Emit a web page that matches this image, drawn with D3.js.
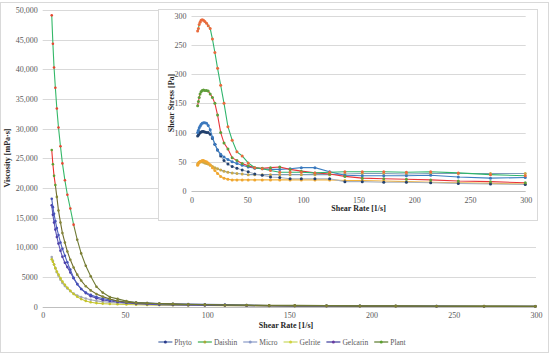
<!DOCTYPE html>
<html>
<head>
<meta charset="utf-8">
<script src="https://cdn.jsdelivr.net/npm/d3@7"></script>
<style>
  body { margin: 0; background: #fff; }
  text { font-family: "Liberation Serif", "Times New Roman", serif; }
</style>
</head>
<body>
<div id="chart"></div>
<script>
// shear rate points [1/s]
const shearRate = [5.5, 6.2, 6.9, 7.7, 8.6, 9.6, 10.8, 12.0, 13.5, 15.0, 16.8, 18.8, 21.0, 23.4, 26.2, 29.2, 32.7, 36.5, 40.8, 45.5, 50.9, 56.8, 63.5, 70.9, 79.2, 88.5, 98.6, 110.8, 124.0, 137.7, 153.3, 172.6, 192.9, 214.7, 239.5, 268.4, 299.6];

// viscosity [mPa·s] (main chart)
const viscDaishin = [49100, 44300, 40300, 36900, 33400, 30200, 27050, 24150, 21300, 18870, 16550, 13830, 11290, 8980, 6910, 5140, 3360, 2380, 1640, 1320, 940, 700, 600, 490, 400, 360, 320, 280, 260, 240, 215, 190, 165, 155, 130, 105, 85];
const viscPlant = [26400, 24000, 22050, 20500, 18500, 16200, 14200, 12400, 10800, 9300, 7900, 6600, 5400, 4400, 3450, 2750, 2150, 1700, 1300, 950, 760, 640, 580, 540, 500, 420, 345, 280, 235, 180, 145, 120, 105, 90, 72, 60, 48];
const viscPhyto = [18180, 16780, 15650, 14420, 13260, 12090, 10830, 9750, 8590, 7470, 6250, 4890, 3810, 2990, 2400, 1990, 1650, 1370, 1150, 970, 805, 690, 600, 520, 470, 430, 405, 360, 265, 195, 170, 150, 135, 125, 100, 80, 75];
const viscGelcarin = [17090, 15480, 14200, 12990, 11750, 10630, 9440, 8420, 7410, 6670, 5770, 4790, 3810, 2990, 2290, 1780, 1410, 1150, 955, 790, 650, 510, 425, 340, 290, 235, 215, 190, 170, 115, 105, 87, 78, 65, 54, 45, 37];
const viscGelrite = [8000, 7580, 7100, 6500, 5930, 5420, 4810, 4250, 3700, 3200, 2680, 2130, 1670, 1280, 950, 750, 610, 520, 465, 420, 375, 335, 300, 270, 240, 215, 195, 170, 155, 130, 115, 100, 85, 70, 60, 50, 40];
const viscMicro = [8360, 7740, 7100, 6500, 5820, 5210, 4540, 4000, 3480, 3070, 2620, 2230, 1900, 1620, 1370, 1160, 980, 850, 735, 640, 550, 495, 440, 395, 355, 315, 285, 255, 225, 210, 195, 175, 150, 140, 125, 110, 100];

// shear stress [Pa] (inset chart)
const stressDaishin = [274, 278, 285, 289, 292, 293, 292, 290, 287, 283, 278, 260, 237, 210, 181, 150, 110, 87, 67, 60, 48, 40, 38, 35, 32, 32, 32, 31, 32, 33, 33, 33, 32, 33, 31, 28, 26];
const stressPlant = [146, 153, 160, 166, 170, 172, 173, 172, 172, 171, 166, 160, 150, 130, 100, 82, 72, 57, 52, 47, 43, 40, 39, 40, 41, 37, 34, 31, 29, 25, 22, 21, 20, 19, 17, 16, 14];
const stressPhyto = [100, 104, 108, 111, 114, 116, 117, 117, 116, 112, 105, 92, 80, 70, 63, 58, 54, 50, 47, 44, 41, 39, 38, 37, 37, 38, 40, 40, 33, 27, 26, 26, 26, 27, 24, 22, 23];
const stressGelcarin = [94, 96, 98, 100, 101, 102, 102, 101, 100, 100, 97, 90, 80, 70, 60, 52, 46, 42, 39, 36, 33, 29, 27, 24, 23, 21, 21, 21, 21, 16, 16, 15, 15, 14, 13, 12, 11];
const stressGelrite = [44, 47, 49, 50, 51, 52, 52, 51, 50, 48, 45, 40, 35, 30, 25, 22, 20, 19, 19, 19, 19, 19, 19, 19, 19, 19, 19, 19, 19, 18, 18, 17, 16, 15, 14, 13, 12];
const stressMicro = [46, 48, 49, 50, 50, 50, 49, 48, 47, 46, 44, 42, 40, 38, 36, 34, 32, 31, 30, 29, 28, 28, 28, 28, 28, 28, 28, 28, 28, 29, 30, 30, 29, 30, 30, 30, 30];

// tick labels
const viscTicks = [0, 5000, 10000, 15000, 20000, 25000, 30000, 35000, 40000, 45000, 50000];
const viscTickLabels = ["0", "5000", "10,000", "15,000", "20,000", "25,000", "30,000", "35,000", "40,000", "45,000", "50,000"];
const rateTicks = [0, 50, 100, 150, 200, 250, 300];
const stressTicks = [0, 50, 100, 150, 200, 250, 300];
const legendNames = ["Phyto", "Daishin", "Micro", "Gelrite", "Gelcarin", "Plant"];

// styles
const mainStyle = {
  Micro:    { line: "#a9adb9", marker: "#a3a7b3" },
  Gelrite:  { line: "#c9c83a", marker: "#c4c42c" },
  Gelcarin: { line: "#5a52b4", marker: "#4b3fa8" },
  Phyto:    { line: "#4e62bd", marker: "#4650b8" },
  Plant:    { line: "#6f6c2c", marker: "#858636", head: 4, headLine: "#e8322c", headMarker: "#5c9f2e" },
  Daishin:  { line: "#6f7a35", marker: "#7d7f33", head: 12, headLine: "#34b868", headMarker: "#e8452f" }
};
const insetStyle = {
  Micro:    { line: "#7f9bb9", marker: "#c8a848" },
  Gelrite:  { line: "#f2b23a", marker: "#f0a630" },
  Gelcarin: { line: "#a7b1bf", marker: "#22406e" },
  Phyto:    { line: "#3d7fc2", marker: "#3b78bd" },
  Plant:    { line: "#e8343a", marker: "#5f9e3a" },
  Daishin:  { line: "#2fb46c", marker: "#ea6a3c" }
};
const legendStyle = {
  Phyto:    { line: "#4a6aaa", marker: "#27388a" },
  Daishin:  { line: "#3cae4a", marker: "#a8a836" },
  Micro:    { line: "#8a9ac8", marker: "#8a9ac8" },
  Gelrite:  { line: "#c8d860", marker: "#d2d23e" },
  Gelcarin: { line: "#3a3a9a", marker: "#6a3aa0" },
  Plant:    { line: "#5a7a2a", marker: "#5aa02c" }
};

const mainSeries = [
  { name: "Micro", values: viscMicro },
  { name: "Gelrite", values: viscGelrite },
  { name: "Gelcarin", values: viscGelcarin },
  { name: "Phyto", values: viscPhyto },
  { name: "Plant", values: viscPlant },
  { name: "Daishin", values: viscDaishin }
];
const insetSeries = [
  { name: "Micro", values: stressMicro },
  { name: "Gelrite", values: stressGelrite },
  { name: "Gelcarin", values: stressGelcarin },
  { name: "Phyto", values: stressPhyto },
  { name: "Plant", values: stressPlant },
  { name: "Daishin", values: stressDaishin }
];

const W = 550, H = 354;
const svg = d3.select("#chart").append("svg").attr("width", W).attr("height", H);

// outer frame
svg.append("rect").attr("x", 0.5).attr("y", 2.5).attr("width", W - 2).attr("height", H - 4)
  .attr("fill", "#fff").attr("stroke", "#d9d9d9");

function drawPlot(g, series, styles, x, y, xTicks, yTicks, yLabels, r) {
  // gridlines
  g.append("g").selectAll("line").data(yTicks.slice(1)).enter().append("line")
    .attr("x1", x.range()[0]).attr("x2", x.range()[1])
    .attr("y1", d => Math.round(y(d)) + 0.5).attr("y2", d => Math.round(y(d)) + 0.5)
    .attr("stroke", "#d9d9d9").attr("stroke-width", 1);
  g.append("line")
    .attr("x1", x.range()[0]).attr("x2", x.range()[1])
    .attr("y1", Math.round(y(0)) + 0.5).attr("y2", Math.round(y(0)) + 0.5)
    .attr("stroke", "#bfbfbf");

  // axes
  const ya = g.append("g").attr("transform", "translate(" + (x.range()[0] - 3) + ",0)")
    .call(d3.axisLeft(y).tickValues(yTicks).tickSize(0).tickPadding(2)
      .tickFormat((d, i) => yLabels[i]));
  const xa = g.append("g").attr("transform", "translate(0," + (y(0) + 3) + ")")
    .call(d3.axisBottom(x).tickValues(xTicks).tickSize(0).tickPadding(3));
  [ya, xa].forEach(a => {
    a.select(".domain").remove();
    a.selectAll("text").style("font-family", "Liberation Serif, serif").style("font-size", "8px").attr("fill", "#595959");
  });

  const line = d3.line().x((d, i) => x(shearRate[i])).y(d => y(d));
  const lineFrom = (start) => d3.line().x((d, i) => x(shearRate[i + start])).y(d => y(d));

  series.forEach(s => {
    const st = styles[s.name];
    const head = st.head || 0;
    const start = head > 0 ? head - 1 : 0;
    g.append("path").datum(s.values.slice(start))
      .attr("fill", "none").attr("stroke", st.line).attr("stroke-width", 1.1)
      .attr("d", lineFrom(start));
    if (head > 0) {
      g.append("path").datum(s.values.slice(0, head))
        .attr("fill", "none").attr("stroke", st.headLine).attr("stroke-width", 1.1)
        .attr("d", line);
    }
    g.append("g").selectAll("circle").data(s.values).enter().append("circle")
      .attr("cx", (d, i) => x(shearRate[i])).attr("cy", d => y(d)).attr("r", r)
      .attr("fill", (d, i) => i < head ? st.headMarker : st.marker);
  });
}

// main chart
const xMain = d3.scaleLinear().domain([0, 300]).range([42.7, 536]);
const yMain = d3.scaleLinear().domain([0, 50000]).range([306.7, 10]);
const gMain = svg.append("g");
drawPlot(gMain, mainSeries, mainStyle, xMain, yMain, rateTicks, viscTicks, viscTickLabels, 1.3);

gMain.append("text").attr("x", 286).attr("y", 328).attr("text-anchor", "middle")
  .style("font-size", "8px").style("font-weight", "bold").attr("fill", "#262626").text("Shear Rate [1/s]");
gMain.append("text").attr("transform", "translate(10," + 158 + ") rotate(-90)").attr("text-anchor", "middle")
  .style("font-size", "8px").style("font-weight", "bold").attr("fill", "#262626").text("Viscosity [mPa·s]");

// inset chart
svg.append("rect").attr("x", 158.5).attr("y", 9.5).attr("width", 379).attr("height", 211)
  .attr("fill", "#fff").attr("stroke", "#d9d9d9");
const xIn = d3.scaleLinear().domain([0, 300]).range([191.5, 525.7]);
const yIn = d3.scaleLinear().domain([0, 300]).range([191, 15.7]);
const gIn = svg.append("g");
drawPlot(gIn, insetSeries, insetStyle, xIn, yIn, rateTicks, stressTicks, stressTicks.map(String), 1.5);

gIn.append("text").attr("x", (191.5 + 525.7) / 2).attr("y", 211).attr("text-anchor", "middle")
  .style("font-size", "8px").style("font-weight", "bold").attr("fill", "#262626").text("Shear Rate [1/s]");
gIn.append("text").attr("transform", "translate(174," + 103 + ") rotate(-90)").attr("text-anchor", "middle")
  .style("font-size", "8px").style("font-weight", "bold").attr("fill", "#262626").text("Shear Stress [Pa]");

// legend
const legend = svg.append("g");
let lx = 0;
legendNames.forEach(name => {
  const it = legend.append("g").attr("transform", "translate(" + lx + ",0)");
  it.append("line").attr("x1", 0).attr("x2", 14).attr("y1", 0).attr("y2", 0)
    .attr("stroke", legendStyle[name].line).attr("stroke-width", 1.2);
  it.append("circle").attr("cx", 7).attr("cy", 0).attr("r", 1.5).attr("fill", legendStyle[name].marker);
  const t = it.append("text").attr("x", 16).attr("y", 2.6).style("font-size", "7.5px").attr("fill", "#595959").text(name);
  lx += 16 + t.node().getComputedTextLength() + 6;
});
legend.attr("transform", "translate(" + (282 - (lx - 6) / 2) + ",342)");
</script>
</body>
</html>
